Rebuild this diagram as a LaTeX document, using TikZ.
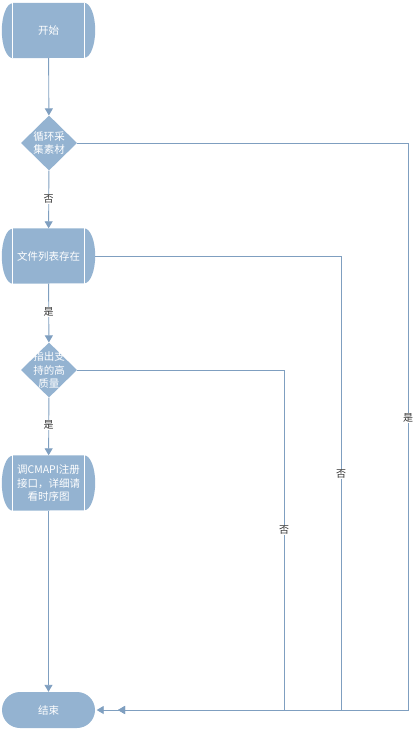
\documentclass[tikz,border=0pt]{standalone}
\usepackage{fontspec}
\setmainfont{Noto Sans CJK SC}
\usetikzlibrary{shapes.geometric,arrows.meta,backgrounds}
\definecolor{boxblue}{HTML}{94B3D1}
\definecolor{flowline}{HTML}{7F9FC0}
\definecolor{lbltext}{HTML}{333333}
\tikzset{
  procbox/.style={rectangle, minimum width=93pt, minimum height=55pt, inner sep=0pt,
    text=white, align=center, font=\fontsize{10.5}{13.5}\selectfont},
  decision/.style={diamond, fill=boxblue, minimum width=56pt, minimum height=55pt,
    inner sep=0pt},
  dectext/.style={text=white, align=center, font=\fontsize{10.5}{13.5}\selectfont},
  terminal/.style={rectangle, rounded corners=18pt, fill=boxblue, minimum width=93pt,
    minimum height=36pt, inner sep=0pt, text=white, font=\fontsize{10.5}{12}\selectfont},
  flow/.style={draw=flowline, line width=0.9pt, -{Triangle[width=8pt,length=7pt]}},
  plain/.style={draw=flowline, line width=0.9pt},
  lbl/.style={fill=white, inner sep=1pt, text=lbltext, font=\fontsize{10}{11}\selectfont},
}
% rectangle with bulging ends and white inner rules, drawn behind a procbox node
\newcommand{\bulgebox}[1]{%
  \begin{scope}[on background layer]
    \fill[boxblue] ([xshift=11pt]#1.north west) -- ([xshift=-11pt]#1.north east)
      arc[start angle=90, end angle=-90, x radius=11pt, y radius=27.5pt]
      -- ([xshift=11pt]#1.south west)
      arc[start angle=270, end angle=90, x radius=11pt, y radius=27.5pt] -- cycle;
    \draw[white, line width=0.8pt] ([xshift=11pt]#1.north west) -- ([xshift=11pt]#1.south west);
    \draw[white, line width=0.8pt] ([xshift=-11pt]#1.north east) -- ([xshift=-11pt]#1.south east);
  \end{scope}}
\begin{document}
\begin{tikzpicture}[x=1pt, y=-1pt]
  \useasboundingbox (0,0) rectangle (420,731);

  \node[procbox] (start) at (48.5,30.5) {开始};
  \bulgebox{start}
  \node[decision, label={[dectext]center:循环采\\集素材}] (d1) at (49,143) {};
  \node[procbox] (b2) at (48.5,256) {文件列表存在};
  \bulgebox{b2}
  \node[decision, label={[dectext]center:指出支\\持的高\\质量}] (d2) at (49,370) {};
  \node[procbox] (b3) at (48.5,483) {调CMAPI注册\\接口，详细请\\看时序图};
  \bulgebox{b3}
  \node[terminal] (end) at (48.5,710) {结束};

  \coordinate (cA) at (408,710);
  \coordinate (cB) at (341,710);
  \coordinate (cC) at (284,710);
  \coordinate (merge) at (118,710);

  % main column
  \draw[flow] (start) -- (d1);
  \draw[flow] (d1) -- (b2);
  \draw[flow] (b2) -- (d2);
  \draw[flow] (d2) -- (b3);
  \draw[flow] (b3) -- (end);

  % side branches back to the end node
  \draw[flow] (d1.east) -| (cA) -- ([xshift=1.5pt]end.east);
  \draw[flow] (b2.east) -| (cB) -- (merge);
  \draw[flow] (d2.east) -| (cC) -- (merge);

  % branch labels
  \node[lbl] (l1) at (48.5,199) {否};
  \node[lbl] (l2) at (48.5,312) {是};
  \node[lbl] (l3) at (48.5,425) {是};
  \node[lbl] (l4) at (408,418) {是};
  \node[lbl] (l5) at (341,474) {否};
  \node[lbl] (l6) at (284,530) {否};
\end{tikzpicture}
\end{document}
